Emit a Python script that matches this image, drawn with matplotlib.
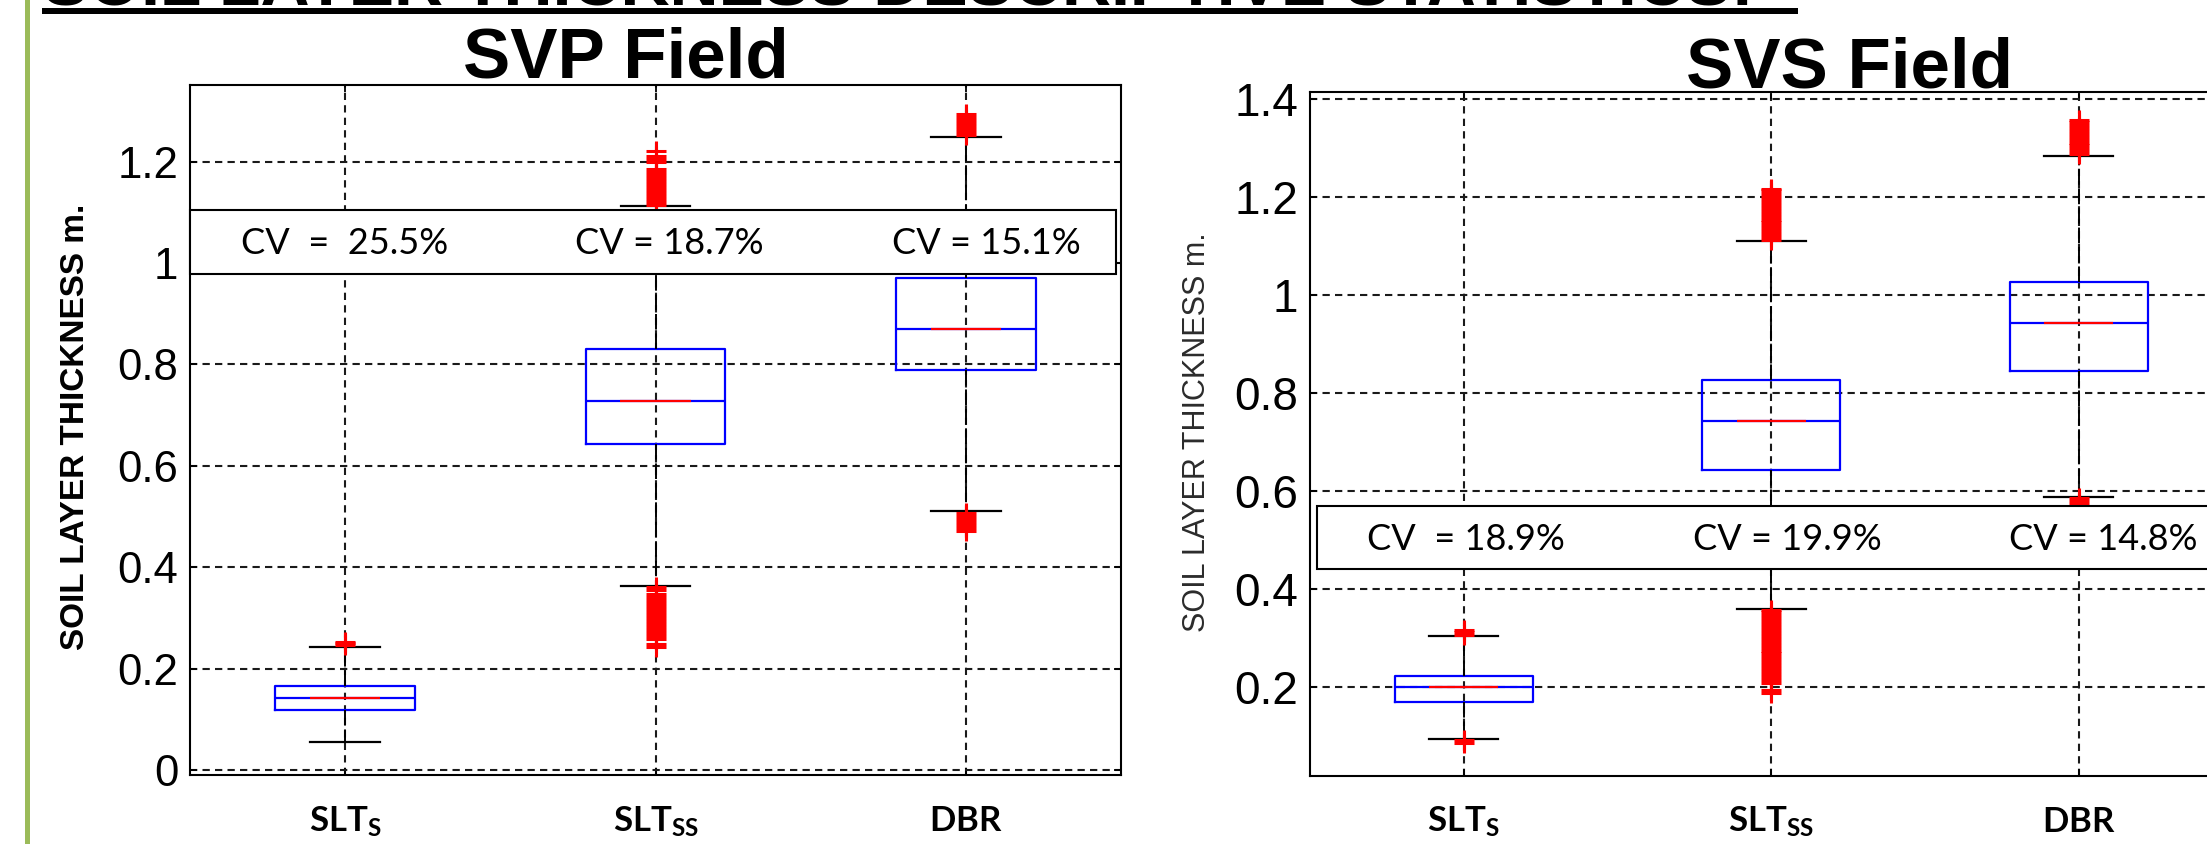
import matplotlib
matplotlib.use("Agg")
import matplotlib.pyplot as plt
from matplotlib.patches import Rectangle

plt.rcParams["mathtext.fontset"] = "custom"
plt.rcParams["mathtext.bf"] = "Lato:bold"
plt.rcParams["mathtext.rm"] = "Lato"

W, H = 2207, 844

categories = [r"$\mathbf{SLT_S}$", r"$\mathbf{SLT_{SS}}$", r"$\mathbf{DBR}$"]
positions = [1, 2, 3]

# SVP field box statistics
svp_q1 = [0.118, 0.643, 0.788]
svp_med = [0.141, 0.728, 0.870]
svp_q3 = [0.166, 0.831, 0.971]
svp_lo = [0.055, 0.362, 0.511]
svp_hi = [0.243, 1.112, 1.249]
svp_out_slts = [0.247, 0.250, 0.253]
svp_out_sltss = [0.243, 0.248, 0.258, 0.264, 0.270, 0.276, 0.282, 0.288, 0.294,
                 0.300, 0.306, 0.312, 0.318, 0.324, 0.330, 0.336, 0.342, 0.348,
                 0.354, 0.360,
                 1.114, 1.120, 1.126, 1.132, 1.138, 1.144, 1.150, 1.156, 1.162,
                 1.168, 1.174, 1.180, 1.186, 1.199, 1.205, 1.210, 1.220]
svp_out_dbr = [0.471, 0.477, 0.483, 0.489, 0.495, 0.501, 0.507,
               1.252, 1.258, 1.264, 1.270, 1.276, 1.282, 1.288, 1.293]
svp_cv = ["CV  =  25.5%", "CV = 18.7%", "CV = 15.1%"]

# SVS field box statistics
svs_q1 = [0.169, 0.643, 0.846]
svs_med = [0.200, 0.743, 0.942]
svs_q3 = [0.224, 0.827, 1.027]
svs_lo = [0.095, 0.359, 0.589]
svs_hi = [0.304, 1.110, 1.284]
svs_out_slts = [0.086, 0.092, 0.306, 0.312, 0.317]
svs_out_sltss = [0.189, 0.194, 0.209, 0.215, 0.221, 0.227, 0.233, 0.239, 0.245,
                 0.251, 0.257, 0.263, 0.269, 0.275, 0.281, 0.287, 0.293, 0.299,
                 0.305, 0.311, 0.317, 0.323, 0.329, 0.335, 0.341, 0.347, 0.353,
                 0.358,
                 1.112, 1.118, 1.124, 1.130, 1.136, 1.142, 1.148, 1.154, 1.160,
                 1.166, 1.172, 1.178, 1.184, 1.190, 1.196, 1.202, 1.208, 1.214,
                 1.217]
svs_out_dbr = [0.574, 0.580, 0.586,
               1.287, 1.293, 1.299, 1.305, 1.311, 1.317, 1.323, 1.329, 1.335,
               1.341, 1.347, 1.353, 1.356]
svs_cv = ["CV  = 18.9%", "CV = 19.9%", "CV = 14.8%"]

svp_ticks = [0, 0.2, 0.4, 0.6, 0.8, 1.0, 1.2]
svp_ticklabels = ["0", "0.2", "0.4", "0.6", "0.8", "1", "1.2"]
svs_ticks = [0.2, 0.4, 0.6, 0.8, 1.0, 1.2, 1.4]
svs_ticklabels = ["0.2", "0.4", "0.6", "0.8", "1", "1.2", "1.4"]


def fx(px):
    return px / W


def fy(py):
    return 1 - py / H


def panel(ax, q1, med, q3, lo, hi, fliers, ylim, ticks, ticklabels, tick_size):
    stats = []
    for i in range(3):
        stats.append(dict(q1=q1[i], med=med[i], q3=q3[i], whislo=lo[i],
                          whishi=hi[i], fliers=fliers[i], label=categories[i]))
    ax.bxp(stats, positions=positions, widths=0.45, manage_ticks=False,
           boxprops=dict(color="#0000ff", linewidth=1.6),
           medianprops=dict(color="#0000ff", linewidth=1.6),
           whiskerprops=dict(color="black", linewidth=1.4, linestyle=(0, (8, 2))),
           capprops=dict(color="black", linewidth=1.6),
           flierprops=dict(marker="+", markeredgecolor="red", markersize=15,
                           markeredgewidth=2.2, linestyle="none"))
    # red centre of the median bar
    for p, m in zip(positions, med):
        ax.hlines(m, p - 0.113, p + 0.113, colors="red", linewidth=1.6, zorder=2.1)

    ax.set_xlim(0.5, 3.5)
    ax.set_ylim(*ylim)
    ax.set_xticks(positions)
    ax.set_xticklabels(categories, fontsize=25)
    ax.set_yticks(ticks)
    ax.set_yticklabels(ticklabels, fontsize=tick_size, family="Liberation Sans")
    ax.tick_params(direction="in", length=5, width=1.3, top=True, right=True)
    ax.tick_params(axis="y", pad=8.5)
    ax.tick_params(axis="x", pad=21)
    ax.grid(True, color="#1a1a1a", linestyle=(0, (3.5, 2.5)), linewidth=1.5)
    ax.set_axisbelow(True)
    for s in ax.spines.values():
        s.set_linewidth(1.5)


fig = plt.figure(figsize=(W / 100, H / 100), dpi=100)

ax1 = fig.add_axes([fx(190), fy(775), fx(931), 690 / H])
panel(ax1, svp_q1, svp_med, svp_q3, svp_lo, svp_hi,
      [svp_out_slts, svp_out_sltss, svp_out_dbr],
      (-0.01, 1.351), svp_ticks, svp_ticklabels, 31.5)
ax1.set_ylabel("SOIL LAYER THICKNESS m.", fontsize=24, fontweight="bold",
               family="Liberation Sans", va="center")
ax1.yaxis.set_label_coords(-0.1235, 0.504)

ax2 = fig.add_axes([fx(1310), fy(775.7), 922.5 / W, 683.4 / H])
panel(ax2, svs_q1, svs_med, svs_q3, svs_lo, svs_hi,
      [svs_out_slts, svs_out_sltss, svs_out_dbr],
      (0.0197, 1.4135), svs_ticks, svs_ticklabels, 33)
ax2.set_ylabel("SOIL LAYER THICKNESS m.", fontsize=22, color="#2b2b2b",
               family="Liberation Sans", va="center")
ax2.yaxis.set_label_coords(-0.1225, 0.503)

# panel titles
fig.text(fx(626), fy(77), "SVP Field", ha="center", va="baseline",
         fontsize=51, fontweight="bold", family="Liberation Sans")
fig.text(fx(1849), fy(87), "SVS Field", ha="center", va="baseline",
         fontsize=51, fontweight="bold", family="Liberation Sans")

# CV boxes
fig.add_artist(Rectangle((fx(190), fy(274)), fx(1116 - 190), 64 / H,
                         transform=fig.transFigure, facecolor="white",
                         edgecolor="black", linewidth=1.5, zorder=5))
fig.add_artist(Rectangle((fx(1316.5), fy(569)), fx(2240 - 1316.5), 63.3 / H,
                         transform=fig.transFigure, facecolor="white",
                         edgecolor="black", linewidth=1.5, zorder=5))
for xc, label in zip([345, 669, 986], svp_cv):
    fig.text(fx(xc), fy(243), label, ha="center", va="center", fontsize=26,
             family="Lato", zorder=6)
for xc, label in zip([1466, 1787, 2103], svs_cv):
    fig.text(fx(xc), fy(539), label, ha="center", va="center", fontsize=26,
             family="Lato", zorder=6)

# slide heading, mostly above the frame, with underline
fig.text(fx(43), fy(5), "SOIL LAYER THICKNESS DESCRIPTIVE STATISTICS:",
         ha="left", va="baseline", fontsize=49, fontweight="bold",
         family="Liberation Sans")
fig.add_artist(Rectangle((fx(42), fy(14)), fx(1798 - 42), 6 / H,
                         transform=fig.transFigure, facecolor="black",
                         edgecolor="none", zorder=5))
# green side bar
fig.add_artist(Rectangle((fx(25), 0), fx(5), 1, transform=fig.transFigure,
                         facecolor="#9bbb59", edgecolor="none", zorder=5))

fig.savefig("out.png", dpi=100)
